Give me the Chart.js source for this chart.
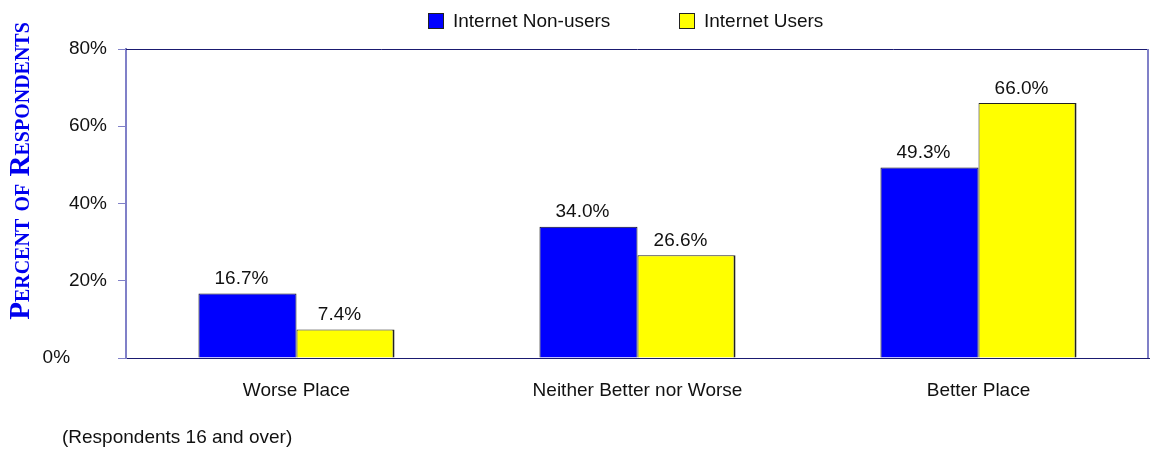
<!DOCTYPE html>
<html>
<head>
<meta charset="utf-8">
<script src="https://cdn.jsdelivr.net/npm/chart.js@4"></script>
<style>
  html, body { margin: 0; padding: 0; background: #fff; }
  #wrap { width: 1150px; height: 452px; position: relative; }
</style>
</head>
<body>
<div id="wrap"><canvas id="surveyChart"></canvas></div>
<script>
var categories = ["Worse Place", "Neither Better nor Worse", "Better Place"];
var nonUsers = [16.7, 34.0, 49.3];
var users = [7.4, 26.6, 66.0];
var seriesNames = ["Internet Non-users", "Internet Users"];
var yTicks = [0, 20, 40, 60, 80];
var footnote = "(Respondents 16 and over)";

var sansFont = '"Liberation Sans", Arial, sans-serif';

// draws legend, axis title, value labels, frame and footnote
var extras = {
  id: "extras",
  afterDraw: function (chart) {
    var ctx = chart.ctx;
    var area = chart.chartArea;
    ctx.save();

    // frame: top dark line, right light line
    ctx.lineWidth = 1;
    ctx.strokeStyle = "#1a1a70";
    ctx.beginPath();
    ctx.moveTo(area.left, area.top + 0.5);
    ctx.lineTo(area.right, area.top + 0.5);
    ctx.stroke();
    ctx.strokeStyle = "#8080c8";
    ctx.lineWidth = 2;
    ctx.beginPath();
    ctx.moveTo(area.right - 1, area.top);
    ctx.lineTo(area.right - 1, area.bottom);
    ctx.stroke();

    // value labels
    ctx.font = "19px " + sansFont;
    ctx.fillStyle = "#111";
    ctx.textAlign = "center";
    ctx.textBaseline = "bottom";
    chart.data.datasets.forEach(function (ds, i) {
      chart.getDatasetMeta(i).data.forEach(function (bar, j) {
        ctx.fillText(ds.data[j].toFixed(1) + "%", bar.x - 6, bar.y - 5);
      });
    });

    // legend
    var lx = [428, 679];
    ctx.textAlign = "left";
    ctx.textBaseline = "middle";
    chart.data.datasets.forEach(function (ds, i) {
      ctx.fillStyle = ds.backgroundColor;
      ctx.fillRect(lx[i], 13, 16, 16);
      ctx.strokeStyle = "#222";
      ctx.lineWidth = 1;
      ctx.strokeRect(lx[i] + 0.5, 13.5, 15, 15);
      ctx.fillStyle = "#111";
      ctx.fillText(ds.label, lx[i] + 25, 22);
    });

    // footnote
    ctx.fillText(footnote, 62, 438);

    // vertical axis title in small caps
    ctx.translate(22, 171);
    ctx.rotate(-Math.PI / 2);
    ctx.fillStyle = "#0000ee";
    ctx.textAlign = "center";
    ctx.textBaseline = "middle";
    ctx.font = 'small-caps bold 29px "Liberation Serif", "Times New Roman", serif';
    ctx.fillText("Percent of Respondents", 0, 0);

    ctx.restore();
  }
};

var ctx = document.getElementById("surveyChart").getContext("2d");
var myChart = new Chart(ctx, {
  type: "bar",
  data: {
    labels: categories,
    datasets: [
      {
        label: seriesNames[0],
        data: nonUsers,
        backgroundColor: "#0000ff",
        borderColor: "#111",
        borderWidth: 1,
      },
      {
        label: seriesNames[1],
        data: users,
        backgroundColor: "#ffff00",
        borderColor: "#222",
        borderWidth: { top: 1, left: 1, bottom: 1, right: 2 },
      }
    ],
  },
  options: {
    responsive: true,
    maintainAspectRatio: false,
    animation: false,
    layout: { padding: { top: 49, right: 1, left: 0, bottom: 0 } },
    datasets: {
      bar: { barPercentage: 1, categoryPercentage: 0.575 }
    },
    plugins: {
      legend: { display: false },
      tooltip: { enabled: false },
    },
    scales: {
      x: {
        grid: { display: false },
        border: { color: "#1a1a70", width: 1 },
        ticks: { color: "#111", font: { size: 19, family: sansFont }, padding: 13 },
        afterFit: function (scale) { scale.height = 94; },
      },
      y: {
        min: 0,
        max: 80,
        afterBuildTicks: function (scale) {
          scale.ticks = yTicks.map(function (v) { return { value: v }; });
        },
        grid: { drawOnChartArea: false, drawTicks: true, tickLength: 8, color: "#8080c8" },
        border: { color: "#8080c8", width: 2 },
        ticks: {
          color: "#111",
          font: { size: 19, family: sansFont },
          padding: 11,
          callback: function (v) {
            return v === 0 ? "0%\u00a0\u00a0\u00a0\u00a0\u00a0\u00a0\u00a0" : v + "%";
          }
        },
        afterFit: function (scale) { scale.width = 126; },
      },
    },
  },
  plugins: [extras],
});
</script>
</body>
</html>
